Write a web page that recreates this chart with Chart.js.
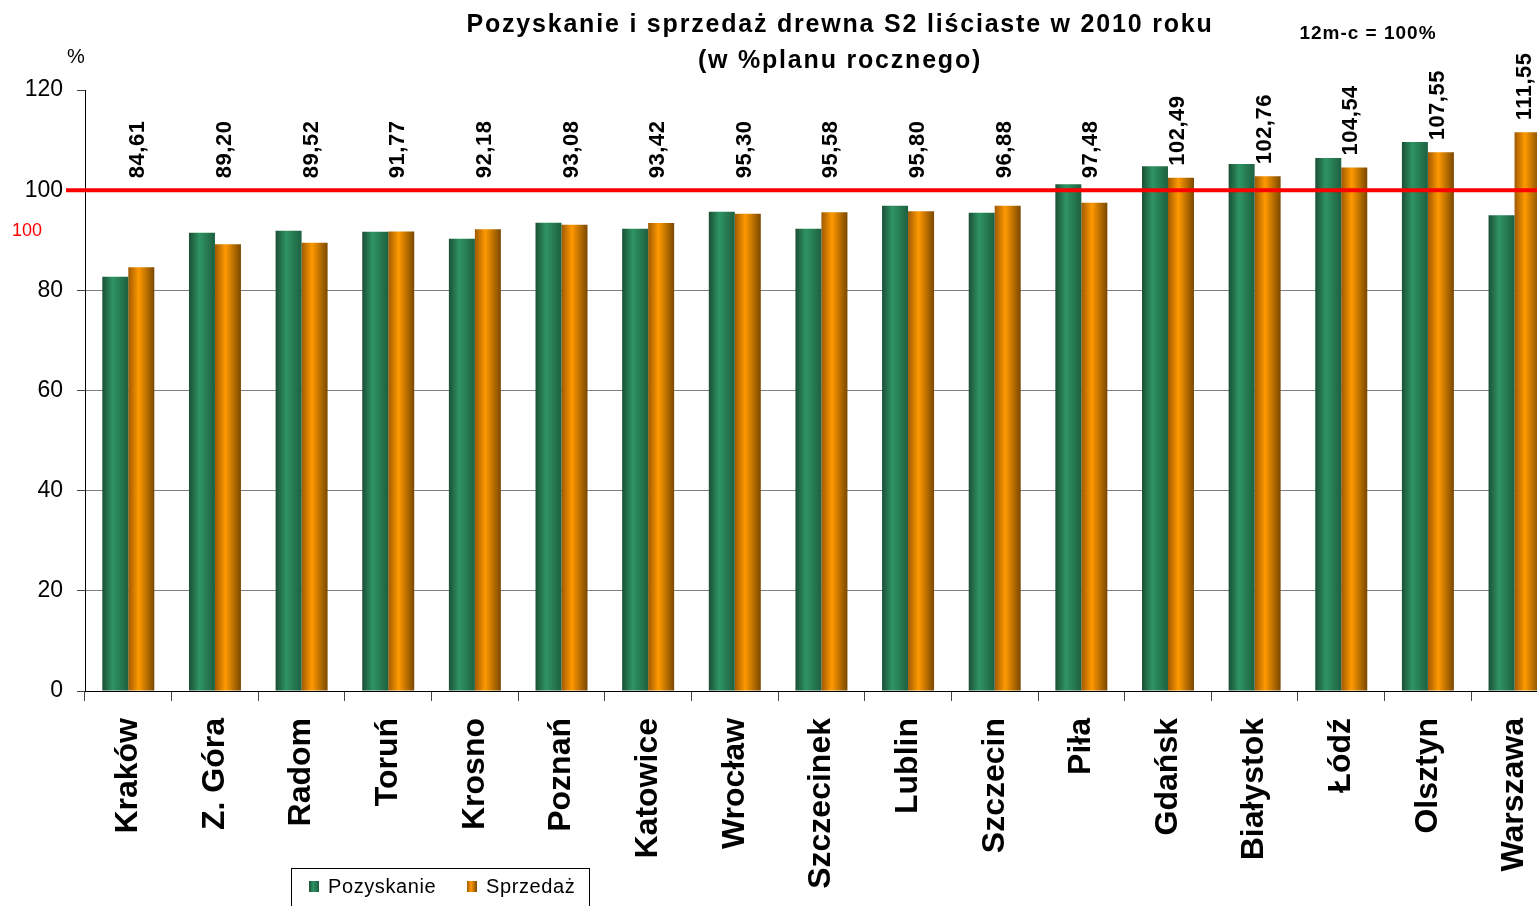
<!DOCTYPE html>
<html>
<head>
<meta charset="utf-8">
<script src="https://cdn.jsdelivr.net/npm/chart.js@4/dist/chart.umd.min.js"></script>
<style>
  body { margin: 0; overflow: hidden; background: #fff; }
  #wrap { width: 1570px; height: 906px; }
</style>
</head>
<body>
<div id="wrap"><canvas id="myChart"></canvas></div>
<script>
const labels = [
  "Kraków", "Z. Góra", "Radom", "Toruń", "Krosno", "Poznań", "Katowice",
  "Wrocław", "Szczecinek", "Lublin", "Szczecin", "Piła", "Gdańsk",
  "Białystok", "Łódź", "Olsztyn", "Warszawa",
];
const pozyskanie = [82.7, 91.5, 91.9, 91.7, 90.3, 93.5, 92.3, 95.7, 92.3, 96.9, 95.5, 101.2, 104.8, 105.2, 106.4, 109.6, 95.0];
const sprzedaz = [84.61, 89.2, 89.52, 91.77, 92.18, 93.08, 93.42, 95.3, 95.58, 95.8, 96.88, 97.48, 102.49, 102.76, 104.54, 107.55, 111.55];
const yMin = 0;
const yMax = 120;
const yStep = 20;
const planLine = 100;

const FONT = "'Liberation Sans', Arial, sans-serif";
const CAT_PCT = 0.6;

// cylinder like fill, one gradient per bar
function barFill(stops) {
  return (c) => {
    const chart = c.chart;
    const x = chart.scales && chart.scales.x;
    if (c.type !== "data" || !x || !chart.chartArea) return stops[2];
    const center = x.getPixelForValue(c.dataIndex);
    const w = (x.width / labels.length) * CAT_PCT / 2;
    const left = c.datasetIndex === 0 ? center - w : center;
    const g = chart.ctx.createLinearGradient(left, 0, left + w, 0);
    g.addColorStop(0, stops[0]);
    g.addColorStop(0.4, stops[1]);
    g.addColorStop(1, stops[2]);
    return g;
  };
}

const extras = {
  id: "extras",
  afterDatasetsDraw(chart) {
    const { ctx, scales } = chart;
    const y = scales.y;
    // red 100% line
    const py = y.getPixelForValue(planLine);
    ctx.save();
    ctx.strokeStyle = "#ff0000";
    ctx.lineWidth = 4;
    ctx.beginPath();
    ctx.moveTo(66, py);
    ctx.lineTo(chart.width, py);
    ctx.stroke();

    // values of Sprzedaż, rotated
    const meta = chart.getDatasetMeta(1);
    ctx.fillStyle = "#000";
    ctx.font = "bold 22px " + FONT;
    ctx.letterSpacing = "0.5px";
    ctx.textAlign = "left";
    ctx.textBaseline = "middle";
    meta.data.forEach((bar, i) => {
      const v = sprzedaz[i];
      const by = y.getPixelForValue(Math.max(v, planLine)) - 12;
      ctx.save();
      ctx.translate(bar.x - 3, by);
      ctx.rotate(-Math.PI / 2);
      ctx.fillText(v.toFixed(2).replace(".", ","), 0, 0);
      ctx.restore();
    });
    ctx.restore();
  },
  afterDraw(chart) {
    const ctx = chart.ctx;
    ctx.save();
    ctx.fillStyle = "#000";
    ctx.textAlign = "center";
    ctx.textBaseline = "middle";
    ctx.font = "bold 25px " + FONT;
    ctx.letterSpacing = "1.8px";
    ctx.fillText("Pozyskanie i sprzedaż drewna S2 liściaste w 2010 roku", 840, 25);
    ctx.fillText("(w %planu rocznego)", 840, 61);
    ctx.font = "bold 19px " + FONT;
    ctx.letterSpacing = "1px";
    ctx.fillText("12m-c = 100%", 1368, 34);
    ctx.letterSpacing = "0px";
    ctx.font = "20px " + FONT;
    ctx.fillText("%", 76, 57);
    ctx.fillStyle = "#ff0000";
    ctx.font = "18px " + FONT;
    ctx.textAlign = "left";
    ctx.fillText("100", 12, 231);

    // legend box
    ctx.strokeStyle = "#000";
    ctx.lineWidth = 1;
    ctx.strokeRect(291.5, 868.5, 298, 50);
    const items = [
      { text: "Pozyskanie", x: 309, stops: ["#1b4f35", "#2e9464", "#1e6040"] },
      { text: "Sprzedaż", x: 467, stops: ["#a05a00", "#ff9900", "#7a4800"] },
    ];
    ctx.font = "20px " + FONT;
    ctx.letterSpacing = "0.6px";
    items.forEach((it) => {
      const g = ctx.createLinearGradient(it.x, 0, it.x + 10, 0);
      g.addColorStop(0, it.stops[0]);
      g.addColorStop(0.4, it.stops[1]);
      g.addColorStop(1, it.stops[2]);
      ctx.fillStyle = g;
      ctx.fillRect(it.x, 881, 10, 11);
      ctx.fillStyle = "#000";
      ctx.fillText(it.text, it.x + 19, 887);
    });
    ctx.restore();
  },
};

const data = {
  labels,
  datasets: [
    {
      label: "Pozyskanie",
      data: pozyskanie,
      backgroundColor: barFill(["#1b4f35", "#2e9464", "#1e6040"]),
      categoryPercentage: CAT_PCT,
      barPercentage: 1,
    },
    {
      label: "Sprzedaż",
      data: sprzedaz,
      backgroundColor: barFill(["#a05a00", "#ff9900", "#7a4800"]),
      categoryPercentage: CAT_PCT,
      barPercentage: 1,
    },
  ],
};

const config = {
  type: "bar",
  data: data,
  plugins: [extras],
  options: {
    responsive: true,
    maintainAspectRatio: false,
    animation: false,
    layout: { padding: { top: 90, right: 2, left: 0, bottom: 0 } },
    plugins: {
      legend: { display: false },
      tooltip: { enabled: false },
    },
    scales: {
      x: {
        afterFit: (s) => { s.height = 215; },
        border: { color: "#000", width: 1 },
        grid: {
          offset: true,
          drawOnChartArea: false,
          tickLength: 10,
          tickColor: "#444",
        },
        ticks: {
          minRotation: 90,
          maxRotation: 90,
          padding: 17,
          color: "#000",
          font: { family: FONT, size: 32, weight: "bold" },
        },
      },
      y: {
        min: yMin,
        max: yMax,
        afterFit: (s) => { s.width = 85; },
        border: { color: "#000", width: 1 },
        grid: {
          color: (c) => (c.tick && c.tick.value === yMax ? "rgba(0,0,0,0)" : "#808080"),
          tickColor: "#444",
          tickLength: 8,
        },
        ticks: {
          stepSize: yStep,
          padding: 14,
          color: "#000",
          font: { family: FONT, size: 23 },
        },
      },
    },
  },
};

const myChart = new Chart(document.querySelector("#myChart").getContext("2d"), config);
</script>
</body>
</html>
